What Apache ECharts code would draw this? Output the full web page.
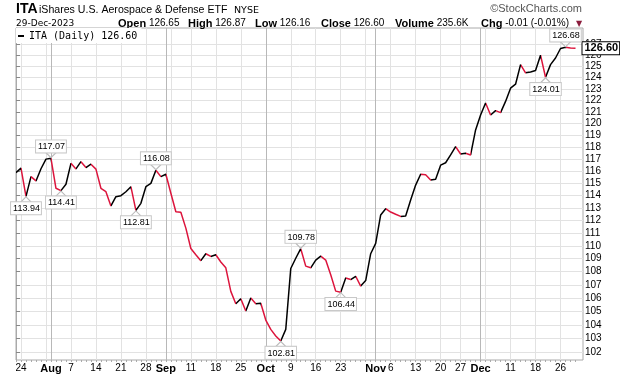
<!DOCTYPE html>
<html>
<head>
<meta charset="utf-8">
<script src="https://cdn.jsdelivr.net/npm/echarts@6/dist/echarts.min.js"></script>
<style>
html, body { margin: 0; background: #fff; }
#chart { width: 620px; height: 376px; }
</style>
</head>
<body>
<div id="chart"></div>
<script>
// trading days shown on the chart
const dates = [
  '2023-07-21', '2023-07-24', '2023-07-25', '2023-07-26', '2023-07-27', '2023-07-28',
  '2023-07-31', '2023-08-01', '2023-08-02', '2023-08-03', '2023-08-04',
  '2023-08-07', '2023-08-08', '2023-08-09', '2023-08-10', '2023-08-11',
  '2023-08-14', '2023-08-15', '2023-08-16', '2023-08-17', '2023-08-18',
  '2023-08-21', '2023-08-22', '2023-08-23', '2023-08-24', '2023-08-25',
  '2023-08-28', '2023-08-29', '2023-08-30', '2023-08-31', '2023-09-01',
  '2023-09-05', '2023-09-06', '2023-09-07', '2023-09-08',
  '2023-09-11', '2023-09-12', '2023-09-13', '2023-09-14', '2023-09-15',
  '2023-09-18', '2023-09-19', '2023-09-20', '2023-09-21', '2023-09-22',
  '2023-09-25', '2023-09-26', '2023-09-27', '2023-09-28', '2023-09-29',
  '2023-10-02', '2023-10-03', '2023-10-04', '2023-10-05', '2023-10-06',
  '2023-10-09', '2023-10-10', '2023-10-11', '2023-10-12', '2023-10-13',
  '2023-10-16', '2023-10-17', '2023-10-18', '2023-10-19', '2023-10-20',
  '2023-10-23', '2023-10-24', '2023-10-25', '2023-10-26', '2023-10-27',
  '2023-10-30', '2023-10-31', '2023-11-01', '2023-11-02', '2023-11-03',
  '2023-11-06', '2023-11-07', '2023-11-08', '2023-11-09', '2023-11-10',
  '2023-11-13', '2023-11-14', '2023-11-15', '2023-11-16', '2023-11-17',
  '2023-11-20', '2023-11-21', '2023-11-22', '2023-11-24',
  '2023-11-27', '2023-11-28', '2023-11-29', '2023-11-30', '2023-12-01',
  '2023-12-04', '2023-12-05', '2023-12-06', '2023-12-07', '2023-12-08',
  '2023-12-11', '2023-12-12', '2023-12-13', '2023-12-14', '2023-12-15',
  '2023-12-18', '2023-12-19', '2023-12-20', '2023-12-21', '2023-12-22',
  '2023-12-26', '2023-12-27', '2023-12-28', '2023-12-29'
];

// daily closes
const closes = [
  115.88, 116.25, 113.94, 115.55, 115.20, 116.20,
  117.00, 117.07, 114.60, 114.41, 114.93,
  116.65, 116.19, 116.79, 116.30, 116.58,
  116.17, 114.60, 114.32, 113.17, 113.92,
  114.00, 114.32, 114.73, 112.81, 113.38,
  114.73, 115.00, 116.08, 115.55, 115.75,
  114.20, 112.70, 112.66, 111.40,
  109.80, 109.31, 108.85, 109.39, 109.18,
  109.31, 108.75, 108.30, 106.50, 105.57,
  105.95, 105.02, 106.00, 105.57, 105.60,
  104.35, 103.66, 103.18, 102.81, 103.66,
  108.25, 109.04, 109.78, 108.43, 108.30,
  108.90, 109.20, 108.90, 107.77, 106.52,
  106.44, 107.52, 107.40, 107.65, 106.90,
  107.32, 109.39, 110.20, 112.45, 112.95,
  112.68, 112.50, 112.33, 112.36, 113.65,
  114.86, 115.75, 115.70, 115.28, 115.33,
  116.50, 116.70, 117.35, 118.04,
  117.43, 117.49, 117.35, 119.45, 120.73,
  121.76, 120.73, 121.10, 120.93, 121.90,
  123.05, 123.40, 125.13, 124.40, 124.48,
  124.60, 125.97, 124.01, 125.13, 125.72,
  126.57, 126.68, 126.61, 126.60
];

// bottom axis labels
const tickDates = [
  '2023-07-24', '2023-08-01', '2023-08-07', '2023-08-14', '2023-08-21', '2023-08-28',
  '2023-09-01', '2023-09-11', '2023-09-18', '2023-09-25', '2023-10-02', '2023-10-09',
  '2023-10-16', '2023-10-23', '2023-11-01', '2023-11-06', '2023-11-13', '2023-11-20',
  '2023-11-27', '2023-12-01', '2023-12-11', '2023-12-18', '2023-12-26'
];
const tickTexts = [
  '24', 'Aug', '7', '14', '21', '28',
  'Sep', '11', '18', '25', 'Oct', '9',
  '16', '23', 'Nov', '6', '13', '20',
  '27', 'Dec', '11', '18', '26'
];
const monthNames = ['Aug', 'Sep', 'Oct', 'Nov', 'Dec'];

// right axis labels
const priceTicks = [102, 103, 104, 105, 106, 107, 108, 109, 110, 111, 112, 113, 114,
  115, 116, 117, 118, 119, 120, 121, 122, 123, 124, 125, 126, 127];

// price callouts: date, side
const notes = [
  ['2023-07-25', 'below'], ['2023-08-01', 'above'], ['2023-08-03', 'below'],
  ['2023-08-24', 'below'], ['2023-08-30', 'above'], ['2023-10-05', 'below'],
  ['2023-10-11', 'above'], ['2023-10-23', 'below'], ['2023-12-20', 'below'],
  ['2023-12-27', 'above']
];

const UP = '#000000';
const DOWN = '#dc143c';
const last = closes[closes.length - 1];

// week starts and month starts for the vertical grid
const weekIdx = [];
const monthIdx = [];
for (let i = 1; i < dates.length; i++) {
  const a = new Date(dates[i - 1] + 'T00:00:00Z');
  const b = new Date(dates[i] + 'T00:00:00Z');
  if (b.getUTCDay() < a.getUTCDay()) weekIdx.push(i);
  if (b.getUTCMonth() !== a.getUTCMonth()) monthIdx.push(i);
}
const labelIdx = tickDates.map(d => dates.indexOf(d));
const dayIdx = dates.map((d, i) => i);

// colour each segment by the day's move
const pieces = [];
for (let i = 1; i < closes.length; i++) {
  pieces.push({ gt: i - 1, lte: i, color: closes[i] >= closes[i - 1] ? UP : DOWN });
}

const myChart = echarts.init(document.getElementById('chart'), null, { renderer: 'canvas' });

const headFont = 'Liberation Sans, Arial, sans-serif';
function headItem(x, label, value) {
  return {
    type: 'text', x: x, y: 23.5,
    style: {
      text: '{b|' + label + '} ' + value,
      fill: '#000', font: '10px ' + headFont, verticalAlign: 'middle',
      rich: { b: { fontWeight: 'bold', fontSize: 11, fontFamily: headFont } }
    }
  };
}

var option = {
  animation: false,
  backgroundColor: '#fff',
  grid: {
    left: 16, right: 37, top: 28, bottom: 16,
    show: true, borderColor: '#aaa', borderWidth: 1,
    outerBoundsMode: 'none'
  },
  graphic: [
    { type: 'text', x: 16, y: 9.5, style: { text: 'ITA', font: 'bold 14px ' + headFont, fill: '#000', verticalAlign: 'middle' } },
    { type: 'text', x: 39, y: 10, style: { text: 'iShares U.S. Aerospace & Defense ETF', font: '10.6px ' + headFont, fill: '#000', verticalAlign: 'middle' } },
    { type: 'text', x: 234, y: 10.5, style: { text: 'NYSE', font: '9.5px DejaVu Sans', fill: '#000', verticalAlign: 'middle' } },
    { type: 'text', x: 582, y: 9, style: { text: '\u00a9StockCharts.com', font: '11px ' + headFont, fill: '#555', align: 'right', verticalAlign: 'middle' } },
    { type: 'text', x: 16, y: 23.5, style: { text: '29-Dec-2023', font: '9px DejaVu Sans', fill: '#000', verticalAlign: 'middle' } },
    headItem(118, 'Open', '126.65'),
    headItem(188, 'High', '126.87'),
    headItem(255, 'Low', '126.16'),
    headItem(321, 'Close', '126.60'),
    headItem(395, 'Volume', '235.6K'),
    headItem(481, 'Chg', '-0.01 (-0.01%)'),
    { type: 'text', x: 579, y: 23.5, style: { text: '\u25bc', font: '8px DejaVu Sans', fill: '#8b1c3c', align: 'center', verticalAlign: 'middle' } }
  ],
  legend: {
    left: 16, top: 28,
    backgroundColor: '#fff',
    padding: [3, 4, 2, 2],
    icon: 'rect', itemWidth: 6, itemHeight: 2, itemGap: 4,
    selectedMode: false,
    data: [{ name: 'ITA', itemStyle: { color: '#000' } }],
    formatter: () => 'ITA (Daily) ' + last.toFixed(2),
    textStyle: { fontFamily: 'DejaVu Sans Mono', fontSize: 10, color: '#000', padding: [0, 0, 0, 0] }
  },
  visualMap: {
    type: 'piecewise', show: false, dimension: 0, seriesIndex: 0,
    pieces: pieces
  },
  xAxis: [
    {
      type: 'value', min: 0, max: 113.5, position: 'bottom',
      axisLine: { show: false },
      axisTick: { show: false, customValues: weekIdx },
      splitLine: { show: true, lineStyle: { color: '#e2e2e2', width: 1 } },
      axisLabel: {
        customValues: labelIdx,
        margin: 3,
        color: '#000', fontSize: 10, fontFamily: headFont,
        formatter: v => {
          const t = tickTexts[labelIdx.indexOf(Math.round(v))];
          return monthNames.indexOf(t) >= 0 ? '{m|' + t + '}' : t;
        },
        rich: { m: { fontWeight: 'bold', fontSize: 11, fontFamily: headFont, color: '#000' } }
      }
    },
    {
      type: 'value', min: 0, max: 113.5, position: 'bottom',
      axisLine: { show: false },
      axisTick: { show: false, customValues: monthIdx },
      axisLabel: { show: false },
      splitLine: { show: true, lineStyle: { color: '#b8b8b8', width: 1 } }
    },
    {
      type: 'value', min: 0, max: 113.5, position: 'bottom',
      axisLine: { show: false },
      axisTick: { show: true, customValues: dayIdx, length: 2, lineStyle: { color: '#aaa' } },
      axisLabel: { show: false },
      splitLine: { show: false }
    }
  ],
  yAxis: {
    type: 'log', logBase: 10, position: 'right',
    min: 101.43, max: 128.43,
    axisLine: { show: true, lineStyle: { color: '#aaa' } },
    axisTick: { show: true, customValues: priceTicks, length: 4, lineStyle: { color: '#888' } },
    axisLabel: {
      customValues: priceTicks, margin: 2,
      color: '#000', fontSize: 10, fontFamily: headFont,
      formatter: v => String(Math.round(v))
    },
    splitLine: { show: true, lineStyle: { color: '#e2e2e2', width: 1 } }
  },
  series: [
    {
      name: 'ITA',
      type: 'line',
      xAxisIndex: 0,
      data: closes.map((v, i) => [i, v]),
      showSymbol: false,
      lineStyle: { width: 1.5 },
      itemStyle: { color: '#000' },
      endLabel: {
        show: true,
        formatter: () => last.toFixed(2),
        distance: 7,
        color: '#000', fontWeight: 'bold', fontSize: 11, fontFamily: headFont,
        backgroundColor: '#fff', borderColor: '#000', borderWidth: 1,
        padding: [1, 1, 0, 2]
      },
      markPoint: {
        symbol: 'path://M0,6L5,0L10,6',
        symbolSize: [10, 5],
        itemStyle: { color: 'rgba(0,0,0,0)', borderColor: '#bbb', borderWidth: 1 },
        label: {
          show: true,
          formatter: p => p.value,
          color: '#000', fontSize: 9, fontFamily: headFont,
          backgroundColor: '#fff', borderColor: '#c8c8c8', borderWidth: 1,
          padding: [2, 1, 1, 2]
        },
        data: notes.map(([d, side]) => {
          const i = dates.indexOf(d);
          const below = side === 'below';
          return {
            coord: [i, closes[i]],
            value: closes[i].toFixed(2),
            symbolRotate: below ? 0 : 180,
            symbolOffset: [0, below ? 3 : -3],
            label: { position: below ? 'bottom' : 'top', distance: 0 }
          };
        })
      }
    }
  ]
};

myChart.setOption(option);
</script>
</body>
</html>
